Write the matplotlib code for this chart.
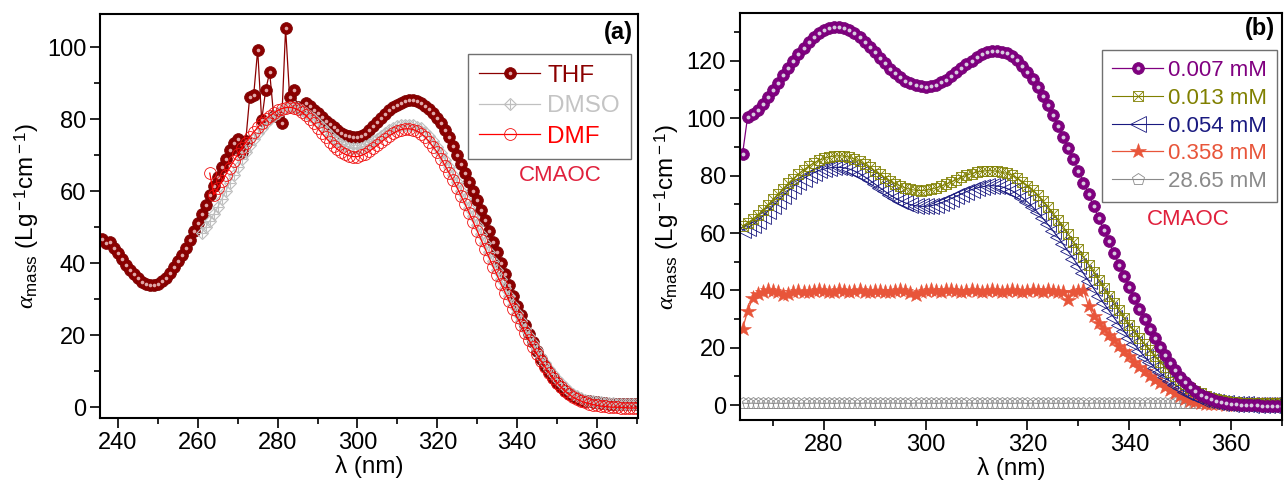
import numpy as np
import matplotlib as mpl
mpl.use('Agg')
import matplotlib.pyplot as plt
from matplotlib.ticker import MultipleLocator

mpl.rcParams['font.family'] = ['Liberation Sans', 'DejaVu Sans']
mpl.rcParams['mathtext.fontset'] = 'custom'
mpl.rcParams['mathtext.rm'] = 'Liberation Sans'
mpl.rcParams['mathtext.it'] = 'Liberation Serif:italic'

# ---- panel (a): solvents ----
wl_thf = np.arange(236, 371)
thf = [46.8, 45.6, 45.8, 44.3, 42.8, 41.2, 39.6, 38.2, 36.9, 35.8,
       34.9, 34.3, 34.0, 34.0, 34.3, 35.0, 36.0, 37.3, 38.8, 40.5,
       42.3, 44.3, 46.5, 48.8, 51.2, 53.7, 56.2, 58.8, 61.4, 64.0,
       66.6, 69.0, 71.5, 73.5, 74.6, 70.9, 73.8, 86.2, 86.7, 99.2,
       79.7, 88.0, 93.1, 81.0, 80.5, 79.0, 105.2, 86.2, 88.0, 83.5,
       82.8, 84.5, 83.6, 82.6, 81.6, 80.6, 79.6, 78.6, 77.7, 76.9,
       76.2, 75.6, 75.2, 75.0, 75.0, 75.3, 76.0, 77.0, 78.0, 79.2,
       80.3, 81.4, 82.4, 83.3, 84.0, 84.6, 85.0, 85.2, 85.2, 85.0,
       84.5, 83.7, 82.8, 81.7, 80.4, 78.8, 77.0, 74.9, 72.6, 70.1,
       67.6, 65.0, 62.5, 60.0, 57.5, 54.8, 52.0, 49.0, 46.0, 43.0,
       40.0, 37.0, 34.0, 31.0, 28.2, 25.5, 22.8, 20.3, 18.0, 15.7,
       13.5, 11.5, 9.7, 8.1, 6.7, 5.5, 4.5, 3.7, 3.0, 2.5,
       2.1, 1.8, 1.6, 1.4, 1.3, 1.2, 1.1, 1.0, 1.0, 0.9,
       0.9, 0.9, 0.8, 0.8, 0.8]

wl_dmso = np.arange(261, 371)
dmso = [48.5, 50.0, 51.8, 53.6, 55.6, 57.8, 60.0, 62.3, 64.6, 66.8,
        69.0, 71.0, 72.9, 74.6, 76.1, 77.5, 78.8, 80.0, 81.0, 81.8,
        82.5, 83.0, 83.3, 83.3, 83.0, 82.5, 81.8, 80.9, 79.9, 78.8,
        77.7, 76.6, 75.6, 74.6, 73.8, 73.1, 72.5, 72.1, 71.9, 71.9,
        72.1, 72.5, 73.1, 73.8, 74.6, 75.4, 76.2, 76.9, 77.5, 78.0,
        78.3, 78.5, 78.5, 78.3, 77.9, 77.4, 76.5, 75.3, 73.9, 72.3,
        70.6, 68.7, 66.7, 64.6, 62.4, 60.1, 57.8, 55.4, 53.0, 50.5,
        48.0, 45.5, 43.0, 40.5, 38.0, 35.6, 33.2, 30.8, 28.5, 26.2,
        24.0, 21.8, 19.7, 17.7, 15.8, 14.0, 12.3, 10.7, 9.2, 7.8,
        6.6, 5.5, 4.5, 3.7, 3.0, 2.5, 2.1, 1.8, 1.6, 1.4,
        1.3, 1.2, 1.1, 1.1, 1.0, 1.0, 1.0, 0.9, 0.9, 0.9]

wl_dmf = np.arange(263, 371)
dmf = [65.0, 59.0, 60.8, 62.7, 64.6, 66.5, 68.4, 70.2, 71.9, 73.5,
       75.0, 76.4, 77.7, 78.9, 80.0, 80.9, 81.7, 82.4, 82.9, 83.2,
       83.3, 83.1, 82.7, 82.0, 81.1, 80.0, 78.8, 77.5, 76.2, 74.9,
       73.7, 72.6, 71.6, 70.8, 70.2, 69.8, 69.6, 69.6, 69.9, 70.4,
       71.1, 71.9, 72.8, 73.7, 74.6, 75.4, 76.1, 76.7, 77.1, 77.3,
       77.3, 77.1, 76.6, 76.0, 75.0, 73.7, 72.3, 70.8, 69.0, 67.0,
       65.0, 63.0, 60.9, 58.6, 56.3, 53.9, 51.5, 49.0, 46.5, 44.0,
       41.5, 39.0, 36.6, 34.2, 31.8, 29.5, 27.2, 25.0, 22.8, 20.6,
       18.6, 16.6, 14.7, 12.9, 11.2, 9.6, 8.1, 6.8, 5.6, 4.5,
       3.6, 2.8, 2.2, 1.7, 1.3, 1.0, 0.7, 0.5, 0.3, 0.2,
       0.1, 0.0, 0.0, -0.1, -0.1, -0.2, -0.2, -0.2]

# ---- panel (b): concentrations ----
wl_b = np.arange(264, 371)
c007 = [87.5, 100.5, 101.5, 103.0, 105.0, 107.3, 109.8, 112.4, 115.0, 117.6,
        120.1, 122.4, 124.6, 126.6, 128.3, 129.7, 130.8, 131.5, 131.9, 131.9,
        131.5, 130.8, 129.7, 128.3, 126.7, 124.9, 123.0, 121.0, 119.1, 117.3,
        115.7, 114.3, 113.1, 112.2, 111.5, 111.1, 111.0, 111.2, 111.7, 112.5,
        113.5, 114.7, 116.0, 117.4, 118.8, 120.1, 121.3, 122.3, 123.0, 123.4,
        123.5, 123.2, 122.6, 121.6, 120.2, 118.4, 116.2, 113.7, 110.9, 107.8,
        104.5, 101.0, 97.4, 93.6, 89.7, 85.7, 81.7, 77.6, 73.5, 69.4,
        65.3, 61.2, 57.1, 53.0, 49.0, 45.0, 41.1, 37.3, 33.6, 30.0,
        26.6, 23.3, 20.2, 17.3, 14.6, 12.1, 9.9, 7.9, 6.2, 4.8,
        3.6, 2.7, 2.0, 1.4, 1.0, 0.7, 0.5, 0.3, 0.2, 0.1,
        0.0, -0.1, -0.2, -0.3, -0.3, -0.4, -0.4]

c013 = [62.5, 63.5, 64.8, 66.3, 68.0, 69.8, 71.7, 73.6, 75.5, 77.3,
        79.0, 80.6, 82.0, 83.3, 84.4, 85.3, 86.0, 86.5, 86.8, 86.9,
        86.8, 86.4, 85.8, 85.0, 84.0, 82.9, 81.7, 80.5, 79.3, 78.2,
        77.2, 76.4, 75.7, 75.2, 74.9, 74.8, 74.9, 75.2, 75.7, 76.3,
        77.0, 77.8, 78.6, 79.4, 80.1, 80.7, 81.2, 81.5, 81.7, 81.7,
        81.5, 81.1, 80.8, 80.1, 79.1, 77.9, 76.5, 74.9, 73.1, 71.1,
        69.0, 66.8, 64.5, 62.1, 59.6, 57.0, 54.4, 51.7, 49.0, 46.3,
        43.6, 40.9, 38.2, 35.6, 33.0, 30.5, 28.1, 25.7, 23.4, 21.2,
        19.1, 17.1, 15.2, 13.4, 11.7, 10.1, 8.6, 7.3, 6.1, 5.0,
        4.1, 3.3, 2.6, 2.1, 1.7, 1.4, 1.1, 1.0, 0.9, 0.8,
        0.8, 0.8, 0.7, 0.7, 0.7, 0.7, 0.7]

c054 = [61.0, 61.8, 62.9, 64.3, 65.9, 67.6, 69.4, 71.2, 73.0, 74.7,
        76.3, 77.7, 79.0, 80.1, 81.0, 81.8, 82.3, 82.7, 82.9, 82.9,
        82.7, 82.3, 81.6, 80.7, 79.6, 78.4, 77.1, 75.8, 74.5, 73.3,
        72.2, 71.3, 70.5, 69.9, 69.5, 69.3, 69.3, 69.5, 69.9, 70.5,
        71.2, 72.0, 72.8, 73.6, 74.4, 75.1, 75.7, 76.1, 76.4, 76.5,
        76.4, 76.1, 75.5, 74.7, 73.6, 72.3, 70.8, 69.1, 67.2, 65.2,
        63.0, 60.8, 58.5, 56.1, 53.6, 51.1, 48.5, 45.9, 43.3, 40.7,
        38.1, 35.5, 33.0, 30.5, 28.1, 25.7, 23.4, 21.2, 19.0, 16.9,
        15.0, 13.1, 11.4, 9.8, 8.3, 7.0, 5.8, 4.7, 3.8, 3.0,
        2.3, 1.8, 1.4, 1.0, 0.8, 0.6, 0.5, 0.4, 0.3, 0.3,
        0.2, 0.2, 0.2, 0.2, 0.1, 0.1, 0.1]

c358 = [26.5, 32.8, 37.2, 38.8, 39.6, 40.0, 39.8, 39.3, 38.4, 38.7,
        39.5, 39.9, 39.6, 39.4, 39.8, 40.1, 39.7, 39.3, 39.6, 40.0,
        39.8, 39.5, 39.9, 40.2, 39.5, 39.3, 39.7, 39.9, 39.6, 39.4,
        39.8, 40.1, 39.7, 39.2, 38.3, 39.5, 39.9, 40.1, 39.8, 39.6,
        40.0, 40.2, 39.8, 39.6, 39.9, 40.1, 39.7, 39.5, 39.9, 40.2,
        39.8, 39.6, 39.9, 40.0, 39.7, 39.5, 39.9, 40.1, 39.7, 39.6,
        40.0, 39.8, 39.5, 39.3, 36.6, 39.6, 39.8, 40.2, 34.5, 31.0,
        28.5, 26.5, 24.5, 22.6, 20.6, 18.8, 17.0, 15.2, 13.4, 11.8,
        10.3, 8.9, 7.6, 6.3, 5.2, 4.1, 3.1, 2.3, 1.6, 1.1,
        0.7, 0.5, 0.4, 0.3, 0.3, 0.2, 0.2, 0.2, 0.2, 0.1,
        0.1, 0.1, 0.1, 0.1, 0.1, 0.1, 0.1]

c2865 = [0.7, 0.6, 0.7, 0.6, 0.7, 0.7, 0.6, 0.7, 0.6, 0.7,
         0.7, 0.6, 0.7, 0.6, 0.7, 0.7, 0.6, 0.7, 0.6, 0.7,
         0.7, 0.6, 0.7, 0.6, 0.7, 0.7, 0.6, 0.7, 0.6, 0.7,
         0.7, 0.6, 0.7, 0.6, 0.7, 0.7, 0.6, 0.7, 0.6, 0.7,
         0.7, 0.6, 0.7, 0.6, 0.7, 0.7, 0.6, 0.7, 0.6, 0.7,
         0.7, 0.6, 0.7, 0.6, 0.7, 0.7, 0.6, 0.7, 0.6, 0.7,
         0.7, 0.6, 0.7, 0.6, 0.7, 0.7, 0.6, 0.7, 0.6, 0.7,
         0.7, 0.6, 0.7, 0.6, 0.7, 0.7, 0.6, 0.7, 0.6, 0.7,
         0.7, 0.6, 0.7, 0.6, 0.7, 0.6, 0.6, 0.6, 0.6, 0.6,
         0.6, 0.6, 0.6, 0.6, 0.6, 0.6, 0.6, 0.6, 0.6, 0.6,
         0.6, 0.6, 0.6, 0.6, 0.6, 0.6, 0.6]

labels_a = ['THF', 'DMSO', 'DMF']
labels_b = ['0.007 mM', '0.013 mM', '0.054 mM', '0.358 mM', '28.65 mM']

red_txt = '#E0203C'
ylab = r'$\alpha_{\rm mass}$ (Lg$^{\rm -1}$cm$^{\rm -1}$)'


def style_axes(ax, xmaj, ymaj):
    ax.xaxis.set_major_locator(MultipleLocator(xmaj))
    ax.xaxis.set_minor_locator(MultipleLocator(xmaj / 2))
    ax.yaxis.set_major_locator(MultipleLocator(ymaj))
    ax.yaxis.set_minor_locator(MultipleLocator(ymaj / 2))
    ax.tick_params(which='both', direction='out', top=False, right=False,
                   width=1.2, labelsize=17)
    ax.tick_params(which='major', length=7, pad=3)
    ax.tick_params(which='minor', length=4)
    for s in ax.spines.values():
        s.set_linewidth(1.5)
    ax.set_xlabel('λ (nm)', fontsize=17.5, labelpad=1)
    ax.set_ylabel(ylab, fontsize=17.5, labelpad=4)


fig = plt.figure(figsize=(12.84, 4.84), dpi=100)

# (a)
ax1 = fig.add_axes([0.0779, 0.1364, 0.4190, 0.8347])
h_thf, = ax1.plot(wl_thf, thf, '-', color='#8B0000', lw=0.9, marker='o', ms=8.5,
                  mfc='#8B0000', mec='#7A0000', mew=0.5)
h_thf2, = ax1.plot(wl_thf, thf, ls='none', marker='o', ms=2.6, mfc='#E0A8A8', mec='none')
h_dmso, = ax1.plot(wl_dmso, dmso, '-', color='#C0C0C0', lw=0.9, marker='D', ms=6.5,
                   mfc='none', mec='#BEBEBE', mew=0.8)
h_dmso2, = ax1.plot(wl_dmso, dmso, ls='none', marker='+', ms=6.5, mec='#BEBEBE', mew=0.8)
h_dmf, = ax1.plot(wl_dmf, dmf, '-', color='#FF0000', lw=0.9, marker='o', ms=8.5,
                  mfc='none', mec='#F01010', mew=0.6)
ax1.set_xlim(235.5, 370.3)
ax1.set_ylim(-3, 109.2)
style_axes(ax1, 20, 20)

leg1 = ax1.legend([(h_thf, h_thf2), (h_dmso, h_dmso2), h_dmf], labels_a,
                  loc='upper right', bbox_to_anchor=(0.987, 0.901), borderaxespad=0,
                  fontsize=17.5, handlelength=2.5, handletextpad=0.3,
                  labelspacing=0.35, borderpad=0.45, fancybox=False, framealpha=1)
leg1.get_frame().set_edgecolor('#707070')
leg1.get_frame().set_linewidth(1.0)
for t, c in zip(leg1.get_texts(), ['#8B0000', '#C4C4C4', '#FF0000']):
    t.set_color(c)
ax1.text(0.855, 0.601, 'CMAOC', transform=ax1.transAxes, color=red_txt,
         fontsize=16, ha='center', va='center')
ax1.text(0.963, 0.953, '(a)', transform=ax1.transAxes, fontsize=17,
         fontweight='bold', ha='center', va='center')

# (b)
ax2 = fig.add_axes([0.5763, 0.1322, 0.4221, 0.8415])
h5, = ax2.plot(wl_b, c2865, '-', color='#8A8A8A', lw=0.8, marker='p', ms=9,
               mfc='none', mec='#8A8A8A', mew=0.6)
h4, = ax2.plot(wl_b, c358, '-', color='#E8553A', lw=0.9, marker='*', ms=11.5,
               mfc='#E8553A', mec='#E8553A', mew=0.4)
h3, = ax2.plot(wl_b, c054, '-', color='#1A1A80', lw=0.8, marker='<', ms=12,
               mfc='none', mec='#1A1A80', mew=0.6)
h2, = ax2.plot(wl_b, c013, '-', color='#808000', lw=0.8, marker='s', ms=7.5,
               mfc='none', mec='#808000', mew=0.6)
h2b, = ax2.plot(wl_b, c013, ls='none', marker='x', ms=6.5, mec='#808000', mew=0.6)
h1, = ax2.plot(wl_b, c007, '-', color='#800080', lw=0.9, marker='o', ms=8.5,
               mfc='#800080', mec='#700070', mew=0.5)
h1b, = ax2.plot(wl_b, c007, ls='none', marker='o', ms=2.8, mfc='#D8CCE0', mec='none')
ax2.set_xlim(263.5, 370)
ax2.set_ylim(-5.2, 136.8)
style_axes(ax2, 20, 20)

leg2 = ax2.legend([(h1, h1b), (h2, h2b), h3, h4, h5], labels_b,
                  loc='upper right', bbox_to_anchor=(0.990, 0.908), borderaxespad=0,
                  fontsize=16, handlelength=2.3, handletextpad=0.2,
                  labelspacing=0.3, borderpad=0.45, fancybox=False, framealpha=1)
leg2.get_frame().set_edgecolor('#707070')
leg2.get_frame().set_linewidth(1.0)
for t, c in zip(leg2.get_texts(), ['#800080', '#808000', '#1A1A80', '#E8553A', '#8A8A8A']):
    t.set_color(c)
ax2.text(0.828, 0.492, 'CMAOC', transform=ax2.transAxes, color=red_txt,
         fontsize=16, ha='center', va='center')
ax2.text(0.959, 0.962, '(b)', transform=ax2.transAxes, fontsize=17,
         fontweight='bold', ha='center', va='center')

fig.savefig('out.png', dpi=100)
